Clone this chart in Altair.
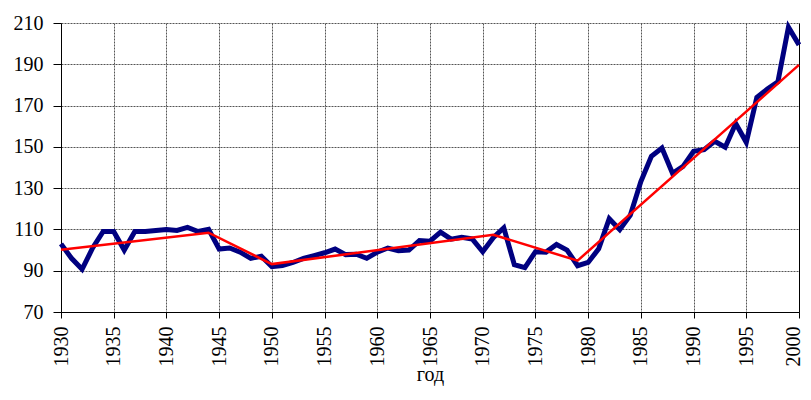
import altair as alt
import pandas as pd

years = list(range(1930, 2001))
values = [103, 96, 90.7, 101, 109, 109, 100, 109, 109, 109.5,
          110, 109.5, 111, 109, 110, 100.5, 101, 99, 96, 97,
          92, 92.5, 94, 96, 97.3, 98.7, 100.5, 97.8, 98, 96,
          99, 101, 99.7, 100, 104.6, 104.3, 108.7, 105.3, 106.2, 105.4,
          99.2, 106, 110.8, 92.9, 91.5, 99.2, 99, 102.7, 100, 92.4,
          94, 100.6, 115.2, 109.9, 116.9, 133.2, 145.4, 149.4, 137.2, 140.5,
          147.8, 148.6, 152.7, 149.8, 161.3, 152.2, 173.9, 178, 181.5, 208,
          199.4]
trend_years = [1930, 1944, 1950, 1971, 1979, 2000]
trend_values = [100.2, 108.4, 93.2, 107.4, 94.9, 189.7]
x_ticks = list(range(1930, 2001, 5))
y_ticks = list(range(70, 211, 20))

df = pd.DataFrame({"year": years, "value": values})
tf = pd.DataFrame({"year": trend_years, "value": trend_values})

FONT = "'Liberation Serif', 'Times New Roman', serif"

xscale = alt.Scale(domain=[1930, 2000], nice=False, zero=False)
yscale = alt.Scale(domain=[70, 210], nice=False, zero=False)

xaxis = alt.Axis(values=x_ticks, format="d", labelAngle=270, labelFont=FONT,
                 labelFontSize=20, labelColor="black", tickColor="black",
                 tickSize=6, domainColor="black", grid=True, gridColor="#555555",
                 gridDash=[2, 1], gridWidth=1, title="год", titleFont=FONT,
                 titleFontSize=20, titleFontWeight="normal", titleColor="black",
                 titleBaseline="alphabetic", titleY=68,
                 labelPadding=8, labelFlush=False,
                 labelOffset={"condition": {"test": "datum.value == 2000", "value": -6},
                              "value": 0})
yaxis = alt.Axis(values=y_ticks, labelFont=FONT, labelFontSize=20,
                 labelColor="black", tickColor="black", tickSize=8,
                 domainColor="black", grid=True, gridColor="#555555",
                 gridDash=[2, 1], gridWidth=1, title=None, labelPadding=10)

line = alt.Chart(df).mark_line(color="#000080", strokeWidth=5,
                               strokeJoin="miter").encode(
    x=alt.X("year:Q", scale=xscale, axis=xaxis),
    y=alt.Y("value:Q", scale=yscale, axis=yaxis),
)

trend = alt.Chart(tf).mark_line(color="#ff0000", strokeWidth=2.5).encode(
    x=alt.X("year:Q", scale=xscale),
    y=alt.Y("value:Q", scale=yscale,
            axis=alt.Axis(orient="right", labels=False, ticks=False, grid=False,
                          domainColor="black", title=None)),
)

chart = alt.layer(line, trend).resolve_scale(y="independent").properties(
    width=738, height=289,
    autosize=alt.AutoSizeParams(type="none"),
    padding={"left": 53, "top": 15, "right": 4, "bottom": 74},
).configure(font=FONT).configure_view(stroke=None)

chart.save("out.html", embed_options={"renderer": "svg", "actions": False})
